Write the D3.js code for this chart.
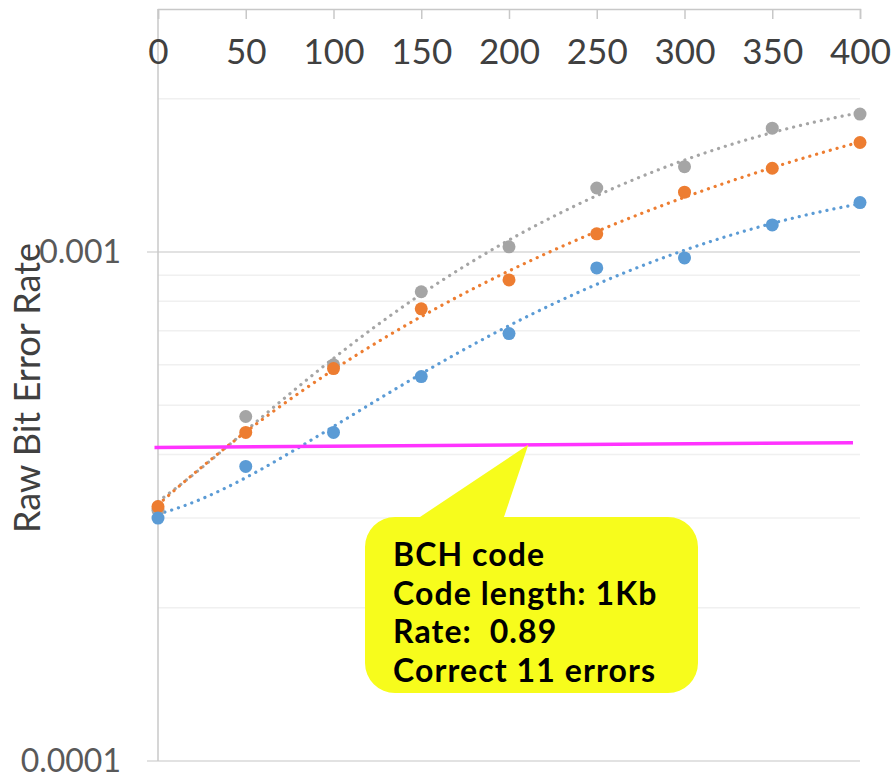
<!DOCTYPE html>
<html>
<head>
<meta charset="utf-8">
<script src="https://cdn.jsdelivr.net/npm/d3@7"></script>
<style>
  body { margin: 0; background: #fff; }
  svg { display: block; font-family: Lato, "Open Sans", sans-serif; }
</style>
</head>
<body>
<div id="canvas"></div>
<script>
// program/erase cycles (x axis, shown on top)
var cycles = [0, 50, 100, 150, 200, 250, 300, 350, 400]
var xTicks = [0, 50, 100, 150, 200, 250, 300, 350, 400]

// raw bit error rate per series
var blueRber   = [3.0e-4, 3.79e-4, 4.42e-4, 5.69e-4, 6.91e-4, 9.30e-4, 9.73e-4, 1.13e-3, 1.25e-3]
var orangeRber = [3.16e-4, 4.42e-4, 5.90e-4, 7.73e-4, 8.81e-4, 1.085e-3, 1.31e-3, 1.46e-3, 1.64e-3]
var grayRber   = [3.11e-4, 4.75e-4, 6.0e-4, 8.35e-4, 1.023e-3, 1.335e-3, 1.47e-3, 1.75e-3, 1.865e-3]

// correction limit line (x, rber)
var limitX = [-2, 396]
var limitY = [4.13e-4, 4.22e-4]

var yMajor = [1e-4, 1e-3]
var yLabels = ["0.0001", "0.001"]

var calloutLines = ["BCH code", "Code length: 1Kb", "Rate:  0.89", "Correct 11 errors"]

var width = 893
var height = 779

var svg = d3.select("#canvas")
    .append("svg")
    .attr("width", width)
    .attr("height", height)

var xScale = d3.scaleLinear().domain([0, 400]).range([158, 860])
var yScale = d3.scaleLog().domain([1e-4, 3e-3]).range([761, 9])

// minor gridlines
var minor = yScale.ticks().filter(function (v) {
    return yMajor.indexOf(v) < 0 && v < 3e-3
})
svg.append("g").selectAll("line")
    .data(minor)
    .enter()
    .append("line")
    .attr("x1", xScale(0)).attr("x2", xScale(400))
    .attr("y1", function (d) { return yScale(d) })
    .attr("y2", function (d) { return yScale(d) })
    .attr("stroke", "#f0f0f0")
    .attr("stroke-width", 1.5)

// major gridlines with outer tick
svg.append("g").selectAll("line")
    .data(yMajor)
    .enter()
    .append("line")
    .attr("x1", xScale(0) - 11).attr("x2", xScale(400))
    .attr("y1", function (d) { return yScale(d) })
    .attr("y2", function (d) { return yScale(d) })
    .attr("stroke", "#d9d9d9")
    .attr("stroke-width", 1.5)

// y tick labels
svg.append("g").selectAll("text")
    .data(yMajor)
    .enter()
    .append("text")
    .attr("x", 121)
    .attr("y", function (d) { return yScale(d) + 11 })
    .attr("text-anchor", "end")
    .attr("font-size", 32)
    .attr("fill", "#595959")
    .text(function (d, i) { return yLabels[i] })

// y axis line
svg.append("line")
    .attr("x1", xScale(0)).attr("x2", xScale(0))
    .attr("y1", yScale(3e-3)).attr("y2", yScale(1e-4))
    .attr("stroke", "#c8c8c8")
    .attr("stroke-width", 1.5)

// x axis at top
var xAxis = svg.append("g")
    .attr("transform", "translate(0," + yScale(3e-3) + ")")
    .call(d3.axisBottom(xScale).tickValues(xTicks).tickSize(10).tickPadding(20).tickSizeOuter(10))
xAxis.select(".domain").attr("stroke", "#c8c8c8").attr("stroke-width", 1.5)
xAxis.selectAll(".tick line").attr("stroke", "#c8c8c8").attr("stroke-width", 1.5)
xAxis.selectAll(".tick text")
    .attr("font-size", 35)
    .attr("font-family", "Lato, sans-serif")
    .attr("fill", "#404040")
    .attr("dy", "0.71em")

// y title
svg.append("text")
    .attr("transform", "translate(40,388) rotate(-90)")
    .attr("text-anchor", "middle")
    .attr("font-size", 36)
    .attr("fill", "#404040")
    .text("Raw Bit Error Rate")

// cubic least-squares trendline, like the spreadsheet's (x in hundreds)
function polyFit(xs, ys, order) {
    var n = order + 1
    var m = []
    for (var r = 0; r < n; r++) {
        m.push([])
        for (var c = 0; c <= n; c++) m[r].push(0)
    }
    xs.forEach(function (x0, i) {
        var x = x0 / 100
        for (var r = 0; r < n; r++) {
            for (var c = 0; c < n; c++) m[r][c] += Math.pow(x, r + c)
            m[r][n] += Math.pow(x, r) * ys[i]
        }
    })
    for (var c = 0; c < n; c++) {
        for (var r = c + 1; r < n; r++) {
            var f = m[r][c] / m[c][c]
            for (var k = c; k <= n; k++) m[r][k] -= f * m[c][k]
        }
    }
    var co = []
    for (var r = n - 1; r >= 0; r--) {
        var v = m[r][n]
        for (var k = r + 1; k < n; k++) v -= m[r][k] * co[k]
        co[r] = v / m[r][r]
    }
    return function (x0) {
        var x = x0 / 100, s = 0
        for (var k = 0; k < n; k++) s += co[k] * Math.pow(x, k)
        return s
    }
}

var series = [
    { values: grayRber, color: "#a5a5a5" },
    { values: orangeRber, color: "#ed7d31" },
    { values: blueRber, color: "#5b9bd5" }
]

var line = d3.line()
    .x(function (d) { return xScale(d[0]) })
    .y(function (d) { return yScale(d[1]) })

series.forEach(function (s) {
    var f = polyFit(cycles, s.values, 3)
    var pts = d3.range(0, 401, 4).map(function (x) { return [x, f(x)] })
    svg.append("path")
        .datum(pts)
        .attr("d", line)
        .attr("fill", "none")
        .attr("stroke", s.color)
        .attr("stroke-width", 3.2)
        .attr("stroke-linecap", "round")
        .attr("stroke-dasharray", "0.1 7")
})

series.forEach(function (s) {
    svg.append("g").selectAll("circle")
        .data(s.values)
        .enter()
        .append("circle")
        .attr("cx", function (d, i) { return xScale(cycles[i]) })
        .attr("cy", function (d) { return yScale(d) })
        .attr("r", 6.5)
        .attr("fill", s.color)
})

// correction limit
svg.append("line")
    .attr("x1", xScale(limitX[0])).attr("x2", xScale(limitX[1]))
    .attr("y1", yScale(limitY[0])).attr("y2", yScale(limitY[1]))
    .attr("stroke", "#ff33ff")
    .attr("stroke-width", 3.5)

// callout
var bx0 = 365, bx1 = 698, by0 = 517, by1 = 693, rad = 30
var tipX = xScale(211), tipY = yScale(4.2e-4) + 1
var p = d3.path()
p.moveTo(bx0 + rad, by0)
p.lineTo(420, by0)
p.lineTo(tipX, tipY)
p.lineTo(504, by0)
p.lineTo(bx1 - rad, by0)
p.arcTo(bx1, by0, bx1, by0 + rad, rad)
p.lineTo(bx1, by1 - rad)
p.arcTo(bx1, by1, bx1 - rad, by1, rad)
p.lineTo(bx0 + rad, by1)
p.arcTo(bx0, by1, bx0, by1 - rad, rad)
p.lineTo(bx0, by0 + rad)
p.arcTo(bx0, by0, bx0 + rad, by0, rad)
p.closePath()
svg.append("path")
    .attr("d", p.toString())
    .attr("fill", "#f7fc1c")

svg.append("g").selectAll("text")
    .data(calloutLines)
    .enter()
    .append("text")
    .attr("x", 393)
    .attr("y", function (d, i) { return 566 + i * 38.5 })
    .attr("font-size", 32)
    .attr("letter-spacing", 1.1)
    .attr("font-weight", "bold")
    .attr("fill", "#000")
    .attr("xml:space", "preserve")
    .style("white-space", "pre")
    .text(function (d) { return d })
</script>
</body>
</html>
